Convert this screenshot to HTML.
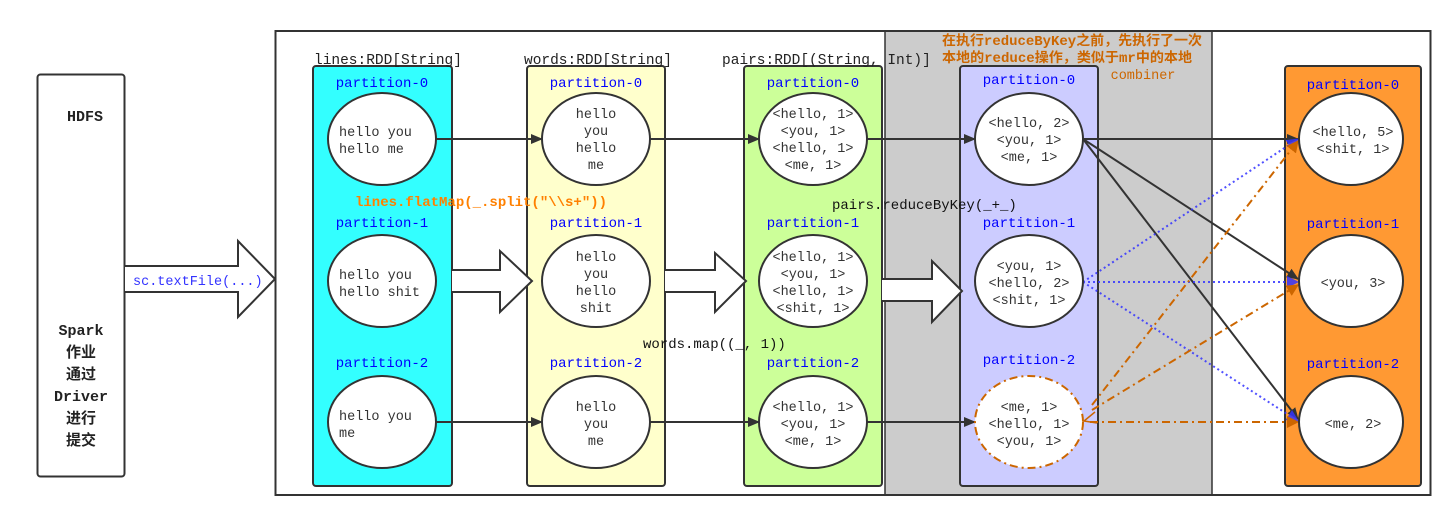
<!DOCTYPE html>
<html><head><meta charset="utf-8"><style>
body{margin:0;background:#fff}
svg{display:block}
text{font-family:"Liberation Mono","Noto Sans CJK SC",monospace}
.pl{fill:#0000ff;font-size:14px;text-anchor:middle}
.et{fill:#333;font-size:13.5px;text-anchor:middle}
</style></head><body>
<svg width="1455" height="522" viewBox="0 0 1455 522" xmlns="http://www.w3.org/2000/svg">
<defs>
<marker id="ab" markerWidth="12" markerHeight="12" refX="11" refY="6" orient="auto" markerUnits="userSpaceOnUse"><path d="M0,1 L12,6 L0,11 z" fill="#333"/></marker>
<marker id="ablue" markerWidth="12" markerHeight="12" refX="11" refY="6" orient="auto" markerUnits="userSpaceOnUse"><path d="M0,0 L12,6 L0,12 z" fill="#3333ff"/></marker>
<marker id="aor" markerWidth="12" markerHeight="12" refX="11" refY="6" orient="auto" markerUnits="userSpaceOnUse"><path d="M0,0 L12,6 L0,12 z" fill="#cc6600"/></marker>
</defs>
<rect x="885" y="31" width="327" height="464" fill="#cccccc" stroke="#333" stroke-width="1.5"/>
<rect x="275.5" y="31" width="1155" height="464" fill="none" stroke="#333" stroke-width="2"/>
<rect x="37.5" y="74.5" width="87" height="402" rx="3" fill="#fff" stroke="#333" stroke-width="2"/>
<text x="85" y="121" font-size="15" font-weight="bold" text-anchor="middle" fill="#222">HDFS</text>
<g font-size="15" font-weight="bold" text-anchor="middle" fill="#222">
<text x="81" y="335">Spark</text><text x="81" y="357">作业</text><text x="81" y="379">通过</text><text x="81" y="401">Driver</text><text x="81" y="423">进行</text><text x="81" y="445">提交</text>
</g>
<path d="M125,266 L238,266 L238,241 L275,279 L238,317 L238,292 L125,292" fill="#fff" stroke="#333" stroke-width="2"/>
<text x="133" y="285" font-size="13.5" fill="#3333ff">sc.textFile(...)</text>
<rect x="313" y="66" width="139" height="420" rx="3" fill="#33ffff" stroke="#333" stroke-width="2"/>
<rect x="527" y="66" width="138" height="420" rx="3" fill="#ffffcc" stroke="#333" stroke-width="2"/>
<rect x="744" y="66" width="138" height="420" rx="3" fill="#ccff99" stroke="#333" stroke-width="2"/>
<rect x="960" y="66" width="138" height="420" rx="3" fill="#ccccff" stroke="#333" stroke-width="2"/>
<rect x="1285" y="66" width="136" height="420" rx="3" fill="#ff9933" stroke="#333" stroke-width="2"/>
<g font-size="14.5" fill="#222">
<text x="314" y="64">lines:RDD[String]</text>
<text x="524" y="64">words:RDD[String]</text>
<text x="722" y="64">pairs:RDD[(String, Int)]</text>
</g>
<path d="M452,270 L500,270 L500,251 L532,281 L500,312 L500,292 L452,292" fill="#fff" stroke="#333" stroke-width="2"/>
<path d="M665,270 L715,270 L715,253 L746,281 L715,312 L715,292 L665,292" fill="#fff" stroke="#333" stroke-width="2"/>
<path d="M882,279 L932,279 L932,261 L962,291 L932,322 L932,301 L882,301" fill="#fff" stroke="#333" stroke-width="2"/>
<g class="pl">
<text x="382" y="87">partition-0</text><text x="382" y="227">partition-1</text><text x="382" y="367">partition-2</text>
<text x="596" y="87">partition-0</text><text x="596" y="227">partition-1</text><text x="596" y="367">partition-2</text>
<text x="813" y="87">partition-0</text><text x="813" y="227">partition-1</text><text x="813" y="367">partition-2</text>
<text x="1029" y="84">partition-0</text><text x="1029" y="227">partition-1</text><text x="1029" y="364">partition-2</text>
<text x="1353" y="89">partition-0</text><text x="1353" y="228">partition-1</text><text x="1353" y="368">partition-2</text>
</g>
<g stroke="#333" stroke-width="2" fill="none">
<line x1="436" y1="139" x2="542" y2="139" marker-end="url(#ab)"/>
<line x1="650" y1="139" x2="759" y2="139" marker-end="url(#ab)"/>
<line x1="867" y1="139" x2="975" y2="139" marker-end="url(#ab)"/>
<line x1="436" y1="422" x2="542" y2="422" marker-end="url(#ab)"/>
<line x1="650" y1="422" x2="759" y2="422" marker-end="url(#ab)"/>
<line x1="867" y1="422" x2="975" y2="422" marker-end="url(#ab)"/>
<line x1="1083" y1="139" x2="1298" y2="139" marker-end="url(#ab)"/>
<line x1="1083" y1="139" x2="1298" y2="279" marker-end="url(#ab)"/>
<line x1="1083" y1="139" x2="1298" y2="419" marker-end="url(#ab)"/>
</g>
<g stroke="#3333ff" stroke-width="2" stroke-dasharray="2,3" fill="none" opacity="0.85">
<line x1="1083" y1="282" x2="1298" y2="139" marker-end="url(#ablue)"/>
<line x1="1083" y1="282" x2="1298" y2="282" marker-end="url(#ablue)"/>
<line x1="1083" y1="282" x2="1298" y2="421" marker-end="url(#ablue)"/>
</g>
<g stroke="#cc6600" stroke-width="2" stroke-dasharray="8,4,2,4" fill="none">
<line x1="1092" y1="405" x2="1298" y2="141" marker-end="url(#aor)"/>
<line x1="1092" y1="410" x2="1298" y2="285" marker-end="url(#aor)"/>
<line x1="1090" y1="422" x2="1298" y2="422" marker-end="url(#aor)"/>
</g>
<path d="M1095,412 L1084,421 L1097,423" fill="none" stroke="#cc6600" stroke-width="1.5"/>
<g fill="#fff" stroke="#333" stroke-width="2">
<ellipse cx="382" cy="139" rx="54" ry="46"/><ellipse cx="382" cy="281" rx="54" ry="46"/><ellipse cx="382" cy="422" rx="54" ry="46"/>
<ellipse cx="596" cy="139" rx="54" ry="46"/><ellipse cx="596" cy="281" rx="54" ry="46"/><ellipse cx="596" cy="422" rx="54" ry="46"/>
<ellipse cx="813" cy="139" rx="54" ry="46"/><ellipse cx="813" cy="281" rx="54" ry="46"/><ellipse cx="813" cy="422" rx="54" ry="46"/>
<ellipse cx="1029" cy="139" rx="54" ry="46"/><ellipse cx="1029" cy="281" rx="54" ry="46"/>
<ellipse cx="1351" cy="139" rx="52" ry="46"/><ellipse cx="1351" cy="281" rx="52" ry="46"/><ellipse cx="1351" cy="422" rx="52" ry="46"/>
</g>
<ellipse cx="1029" cy="422" rx="54" ry="46" fill="#fff" stroke="#cc6600" stroke-width="2" stroke-dasharray="8,4,2,4"/>
<g class="et">
<text x="339" y="136" text-anchor="start">hello you</text><text x="339" y="153" text-anchor="start">hello me</text>
<text x="339" y="279" text-anchor="start">hello you</text><text x="339" y="296" text-anchor="start">hello shit</text>
<text x="339" y="420" text-anchor="start">hello you</text><text x="339" y="437" text-anchor="start">me</text>
<text x="596" y="118">hello</text><text x="596" y="135">you</text><text x="596" y="152">hello</text><text x="596" y="169">me</text>
<text x="596" y="261">hello</text><text x="596" y="278">you</text><text x="596" y="295">hello</text><text x="596" y="312">shit</text>
<text x="596" y="411">hello</text><text x="596" y="428">you</text><text x="596" y="445">me</text>
<text x="813" y="118">&lt;hello, 1&gt;</text><text x="813" y="135">&lt;you, 1&gt;</text><text x="813" y="152">&lt;hello, 1&gt;</text><text x="813" y="169">&lt;me, 1&gt;</text>
<text x="813" y="261">&lt;hello, 1&gt;</text><text x="813" y="278">&lt;you, 1&gt;</text><text x="813" y="295">&lt;hello, 1&gt;</text><text x="813" y="312">&lt;shit, 1&gt;</text>
<text x="813" y="411">&lt;hello, 1&gt;</text><text x="813" y="428">&lt;you, 1&gt;</text><text x="813" y="445">&lt;me, 1&gt;</text>
<text x="1029" y="127">&lt;hello, 2&gt;</text><text x="1029" y="144">&lt;you, 1&gt;</text><text x="1029" y="161">&lt;me, 1&gt;</text>
<text x="1029" y="270">&lt;you, 1&gt;</text><text x="1029" y="287">&lt;hello, 2&gt;</text><text x="1029" y="304">&lt;shit, 1&gt;</text>
<text x="1029" y="411">&lt;me, 1&gt;</text><text x="1029" y="428">&lt;hello, 1&gt;</text><text x="1029" y="445">&lt;you, 1&gt;</text>
<text x="1353" y="136">&lt;hello, 5&gt;</text><text x="1353" y="153">&lt;shit, 1&gt;</text>
<text x="1353" y="287">&lt;you, 3&gt;</text>
<text x="1353" y="428">&lt;me, 2&gt;</text>
</g>
<text x="355" y="206" font-size="14" font-weight="bold" fill="#ff8000">lines.flatMap(_.split("\\s+"))</text>
<text x="643" y="348" font-size="14" fill="#111">words.map((_, 1))</text>
<text x="832" y="209" font-size="14" fill="#111">pairs.reduceByKey(_+_)</text>
<g font-size="13.5" font-weight="bold" fill="#cc6600">
<text x="942" y="45" textLength="260" lengthAdjust="spacingAndGlyphs">在执行reduceByKey之前，先执行了一次</text>
<text x="942" y="62" textLength="250" lengthAdjust="spacingAndGlyphs">本地的reduce操作，类似于mr中的本地</text>
<text x="1143" y="79" text-anchor="middle" font-weight="normal">combiner</text>
</g>
</svg>
</body></html>
